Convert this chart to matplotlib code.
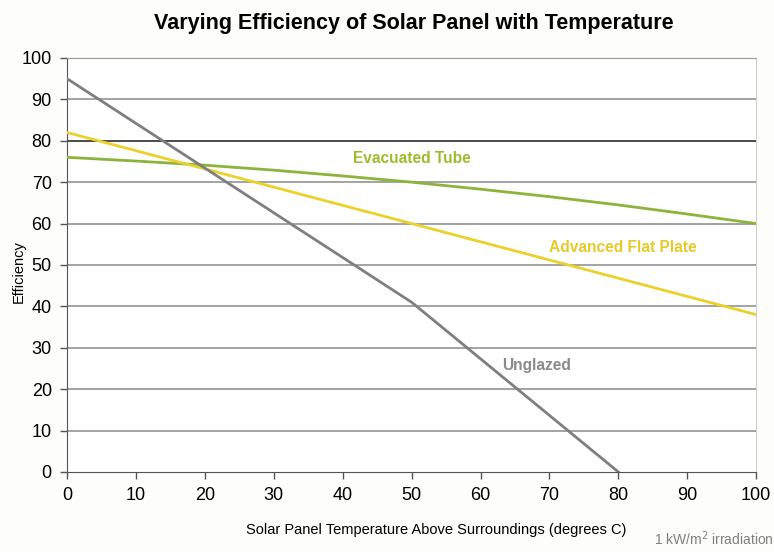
import numpy as np
import matplotlib.pyplot as plt

# temperature above surroundings (deg C)
temps = [0, 10, 20, 30, 40, 50, 60, 70, 80, 90, 100]
evacuated = [76, 75.1, 74.1, 72.9, 71.5, 70, 68.3, 66.5, 64.5, 62.3, 60]
flat_plate = [82, 77.6, 73.2, 68.8, 64.4, 60, 55.6, 51.2, 46.8, 42.4, 38]
unglazed_t = [0, 50, 80]
unglazed = [95, 41, 0]

c_evac = '#8cb43a'
c_flat = '#ecd02c'
c_ungl = '#7f7f7f'
fam = ['Liberation Sans', 'DejaVu Sans']

fig = plt.figure(figsize=(7.74, 5.52), dpi=100, facecolor='#fdfdfb')
ax = fig.add_axes([0.0866, 0.145, 0.8904, 0.750])
ax.set_facecolor('white')

# horizontal gridlines (the 80 line is darker in the original)
for yv in range(10, 100, 10):
    col = '#1a1a1a' if yv == 80 else '#8a8a8a'
    ax.axhline(yv, color=col, lw=1.1, zorder=1)

ax.plot(temps, evacuated, color=c_evac, lw=2.0, zorder=3)
ax.plot(temps, flat_plate, color=c_flat, lw=2.0, zorder=3)
ax.plot(unglazed_t, unglazed, color=c_ungl, lw=2.0, zorder=3)

ax.set_xlim(0, 100)
ax.set_ylim(0, 100)
ax.set_xticks(range(0, 101, 10))
ax.set_yticks(range(0, 101, 10))
ax.tick_params(direction='out', length=5, width=1, color='#555555',
               labelsize=13, pad=6)
for lab in ax.get_xticklabels() + ax.get_yticklabels():
    lab.set_family(fam)

ax.spines['left'].set_color('#555555')
ax.spines['bottom'].set_color('#555555')
ax.spines['top'].set_color('#999999')
ax.spines['right'].set_color('#d0d0d0')

bold = dict(fontweight='bold', fontsize=11.2, ha='center', va='center',
            family=fam)
ax.text(50, 75.8, 'Evacuated Tube', color='#9cbc2c', **bold)
ax.text(80.7, 54.3, 'Advanced Flat Plate', color='#e8c92a', **bold)
ax.text(68.2, 25.8, 'Unglazed', color='#8a8a8a', **bold)

ax.set_xlabel('Solar Panel Temperature Above Surroundings (degrees C)',
              fontsize=10.5, family=fam)
ax.xaxis.set_label_coords(0.536, -0.124)
ax.set_ylabel('Efficiency', fontsize=10.5, family=fam)
ax.yaxis.set_label_coords(-0.06, 0.483)

fig.text(0.535, 0.958, 'Varying Efficiency of Solar Panel with Temperature',
         ha='center', va='center', fontsize=15.5, fontweight='bold',
         family=fam)
fig.text(0.999, 0.008, '1 kW/m$^2$ irradiation', ha='right', va='bottom',
         fontsize=10, color='#808080', family=fam)

fig.savefig('out.png', dpi=100, facecolor=fig.get_facecolor())
